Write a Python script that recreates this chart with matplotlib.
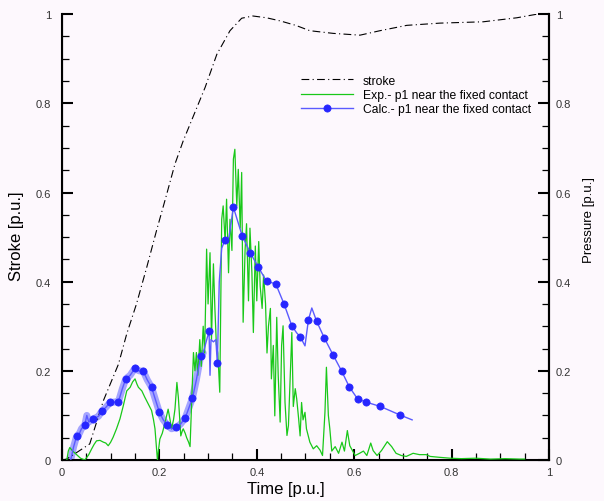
import numpy as np
import matplotlib
matplotlib.use('Agg')
import matplotlib.pyplot as plt
from matplotlib.ticker import MultipleLocator

# stroke curve (dash-dot)
stroke_t = [0.0, 0.0096, 0.057, 0.085, 0.116, 0.133, 0.153, 0.174, 0.194, 0.215, 0.232,
            0.249, 0.270, 0.294, 0.318, 0.345, 0.369, 0.392, 0.420, 0.448, 0.480, 0.509,
            0.557, 0.612, 0.653, 0.708, 0.776, 0.865, 0.934, 0.975, 1.0]
stroke_y = [0.0, 0.002, 0.036, 0.133, 0.215, 0.283, 0.350, 0.432, 0.514, 0.596, 0.664,
            0.716, 0.772, 0.836, 0.910, 0.963, 0.991, 0.996, 0.992, 0.985, 0.975, 0.963,
            0.957, 0.953, 0.963, 0.975, 0.980, 0.983, 0.992, 1.0, 1.0]

# measured pressure (green)
exp_t = [0.010, 0.013, 0.016, 0.022, 0.030, 0.038, 0.047, 0.055, 0.061, 0.066, 0.071, 0.078,
         0.085, 0.090, 0.095, 0.100, 0.105, 0.112, 0.119, 0.126, 0.133, 0.140, 0.145, 0.150,
         0.154, 0.157, 0.164, 0.170, 0.177, 0.184, 0.188, 0.191, 0.194, 0.196, 0.198, 0.201,
         0.206, 0.211, 0.215, 0.218, 0.222, 0.225, 0.229, 0.232, 0.236, 0.239, 0.242, 0.244,
         0.247, 0.249, 0.253, 0.256, 0.260, 0.263, 0.266, 0.270, 0.273, 0.276, 0.279, 0.283,
         0.286, 0.290, 0.293, 0.297, 0.300, 0.304, 0.307, 0.311, 0.314, 0.317, 0.320, 0.324,
         0.328, 0.331, 0.335, 0.338, 0.342, 0.345, 0.349, 0.352, 0.355, 0.359, 0.362, 0.366,
         0.369, 0.372, 0.376, 0.379, 0.383, 0.386, 0.390, 0.393, 0.397, 0.400, 0.404, 0.407,
         0.411, 0.414, 0.418, 0.421, 0.424, 0.428, 0.430, 0.434, 0.437, 0.441, 0.444, 0.448,
         0.451, 0.454, 0.458, 0.462, 0.465, 0.468, 0.472, 0.475, 0.479, 0.482, 0.486, 0.489,
         0.492, 0.495, 0.499, 0.502, 0.509, 0.516, 0.523, 0.530, 0.535, 0.540, 0.543, 0.547,
         0.550, 0.554, 0.561, 0.568, 0.575, 0.580, 0.586, 0.591, 0.597, 0.602, 0.611, 0.619,
         0.626, 0.634, 0.639, 0.647, 0.656, 0.668, 0.677, 0.686, 0.697, 0.707, 0.721, 0.734,
         0.748, 0.756, 0.775, 0.797, 0.820, 0.850, 0.880, 0.910, 0.940, 0.950]
exp_y = [0.0, 0.020, 0.028, 0.020, 0.012, 0.004, 0.0, 0.012, 0.025, 0.035, 0.043, 0.044,
         0.040, 0.038, 0.032, 0.040, 0.051, 0.070, 0.092, 0.122, 0.155, 0.163, 0.175, 0.182,
         0.170, 0.163, 0.155, 0.141, 0.126, 0.111, 0.090, 0.070, 0.028, 0.0, 0.020, 0.047,
         0.060, 0.081, 0.100, 0.114, 0.090, 0.070, 0.090, 0.114, 0.174, 0.140, 0.090, 0.054,
         0.065, 0.070, 0.060, 0.050, 0.040, 0.030, 0.120, 0.241, 0.200, 0.241, 0.190, 0.270,
         0.210, 0.300, 0.240, 0.473, 0.350, 0.465, 0.270, 0.440, 0.340, 0.260, 0.240, 0.152,
         0.540, 0.570, 0.490, 0.585, 0.420, 0.540, 0.470, 0.675, 0.697, 0.570, 0.652, 0.520,
         0.645, 0.309, 0.472, 0.530, 0.357, 0.520, 0.420, 0.286, 0.480, 0.357, 0.490, 0.390,
         0.340, 0.415, 0.350, 0.240, 0.300, 0.340, 0.182, 0.257, 0.099, 0.320, 0.190, 0.085,
         0.257, 0.301, 0.129, 0.055, 0.077, 0.167, 0.286, 0.120, 0.160, 0.137, 0.092, 0.054,
         0.129, 0.090, 0.107, 0.070, 0.040, 0.025, 0.032, 0.022, 0.010, 0.107, 0.208, 0.100,
         0.070, 0.020, 0.030, 0.015, 0.040, 0.020, 0.066, 0.032, 0.020, 0.010, 0.015, 0.020,
         0.010, 0.038, 0.021, 0.010, 0.021, 0.041, 0.030, 0.015, 0.010, 0.008, 0.015, 0.012,
         0.012, 0.008, 0.006, 0.004, 0.003, 0.004, 0.002, 0.003, 0.002, 0.002]

# calculated pressure (blue)
calc_t = [0.018, 0.024, 0.030, 0.036, 0.040, 0.047, 0.051, 0.055, 0.063, 0.070, 0.075, 0.082,
          0.090, 0.099, 0.108, 0.116, 0.124, 0.131, 0.140, 0.150, 0.158, 0.167, 0.175, 0.184,
          0.192, 0.200, 0.208, 0.216, 0.225, 0.234, 0.243, 0.253, 0.260, 0.268, 0.276, 0.285,
          0.290, 0.296, 0.302, 0.304, 0.306, 0.311, 0.316, 0.319, 0.323, 0.328, 0.335, 0.343,
          0.352, 0.370, 0.387, 0.403, 0.420, 0.439, 0.456, 0.472, 0.482, 0.489, 0.499, 0.506,
          0.513, 0.523, 0.539, 0.557, 0.574, 0.590, 0.607, 0.624, 0.654, 0.694, 0.719]
calc_y = [0.0, 0.030, 0.053, 0.060, 0.070, 0.079, 0.100, 0.085, 0.092, 0.095, 0.098, 0.110,
          0.118, 0.129, 0.130, 0.131, 0.160, 0.182, 0.190, 0.206, 0.200, 0.199, 0.180, 0.163,
          0.135, 0.107, 0.090, 0.079, 0.070, 0.073, 0.080, 0.094, 0.115, 0.139, 0.180, 0.234,
          0.240, 0.265, 0.289, 0.190, 0.270, 0.265, 0.270, 0.217, 0.400, 0.475, 0.494, 0.500,
          0.567, 0.503, 0.464, 0.433, 0.401, 0.395, 0.350, 0.301, 0.285, 0.277, 0.256, 0.314,
          0.341, 0.311, 0.273, 0.235, 0.200, 0.164, 0.137, 0.130, 0.120, 0.101, 0.090]
calc_mark_t = [0.030, 0.047, 0.063, 0.082, 0.099, 0.116, 0.131, 0.150, 0.167, 0.184, 0.200,
               0.216, 0.234, 0.253, 0.268, 0.285, 0.302, 0.319, 0.335, 0.352, 0.370, 0.387,
               0.403, 0.420, 0.439, 0.456, 0.472, 0.489, 0.506, 0.523, 0.539, 0.557, 0.574,
               0.590, 0.607, 0.624, 0.654, 0.694]

ticks = [0, 0.2, 0.4, 0.6, 0.8, 1]
tick_labels = ['0', '0.2', '0.4', '0.6', '0.8', '1']

plt.rcParams['font.family'] = ['Liberation Sans', 'DejaVu Sans']
bg = '#fdf8fd'
fig = plt.figure(figsize=(6.04, 5.02), dpi=100, facecolor=bg)
ax = fig.add_axes([0.1026, 0.0817, 0.8063, 0.888])
ax.set_facecolor(bg)

calc_t = np.array(calc_t)
calc_y = np.array(calc_y)
band = calc_t <= 0.29
ax.plot(calc_t[band], calc_y[band], color='#a4a4ff', lw=5, solid_capstyle='round', zorder=2)
ax.plot(stroke_t, stroke_y, color='black', lw=0.8, linestyle=(0, (7, 3, 1, 3)), label='stroke', zorder=3)
ax.plot(exp_t, exp_y, color='#19c819', lw=0.9, label='Exp.- p1 near the fixed contact', zorder=4)
mark_idx = list(np.nonzero(np.isin(calc_t, calc_mark_t))[0])
ax.plot(calc_t, calc_y, color='#5a5aff', lw=1.0, marker='o', markersize=5.2,
        markerfacecolor='#2626ff', markeredgecolor='#2626ff', markeredgewidth=0.5,
        markevery=mark_idx, label='Calc.- p1 near the fixed contact', zorder=5)

ax.set_xlim(0, 1)
ax.set_ylim(0, 1)
ax.spines['top'].set_visible(False)
for s in ['left', 'right', 'bottom']:
    ax.spines[s].set_linewidth(1.5)
ax.set_xticks(ticks)
ax.set_xticklabels(tick_labels)
ax.set_yticks(ticks)
ax.set_yticklabels(tick_labels)
ax.xaxis.set_minor_locator(MultipleLocator(0.05))
ax.yaxis.set_minor_locator(MultipleLocator(0.05))
ax.tick_params(which='major', direction='in', length=8, width=1.5, labelsize=8, labelcolor='#333333')
ax.tick_params(which='minor', direction='in', length=5, width=0.9)
ax.tick_params(axis='y', which='major', pad=8)
ax.tick_params(axis='x', which='major', pad=5)
ax.set_xlabel('Time [p.u.]', fontsize=12)
ax.xaxis.set_label_coords(0.46, -0.047)
ax.set_ylabel('Stroke [p.u.]', fontsize=12)
ax.yaxis.set_label_coords(-0.078, 0.505)

ax2 = ax.twinx()
ax2.set_ylim(0, 1)
ax2.spines['top'].set_visible(False)
ax2.spines['right'].set_linewidth(1.5)
ax2.set_yticks(ticks)
ax2.set_yticklabels(tick_labels)
ax2.yaxis.set_minor_locator(MultipleLocator(0.05))
ax2.tick_params(which='major', direction='in', length=8, width=1.5, labelsize=8, labelcolor='#333333', pad=5)
ax2.tick_params(which='minor', direction='in', length=5, width=0.9)
ax2.set_ylabel('Pressure [p.u.]', fontsize=9.5)
ax2.yaxis.set_label_coords(1.069, 0.54)

ax.legend(loc='upper left', bbox_to_anchor=(0.469, 0.889), frameon=False, fontsize=8.7,
          handlelength=4.3, handletextpad=0.8, labelspacing=0.2, borderpad=0.4)

fig.savefig('out.png', dpi=100, facecolor=bg)
